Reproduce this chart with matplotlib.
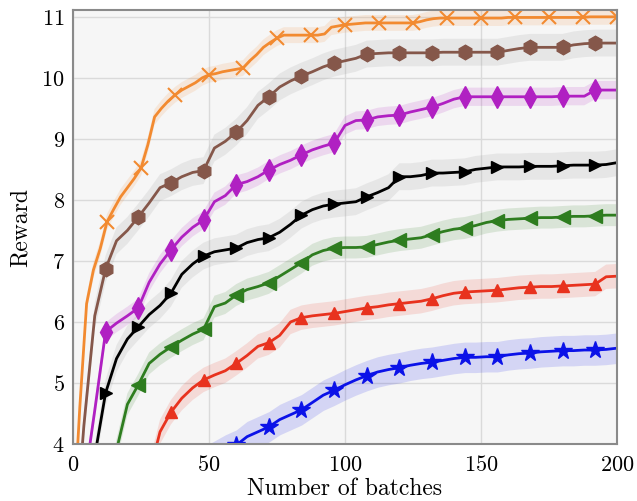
import matplotlib
matplotlib.use('Agg')
import matplotlib.pyplot as plt
import numpy as np

# batch grids
batches_fine = np.arange(0, 200.1, 2.5)
batches = np.arange(0, 200.1, 4)

reward_orange = [2.6, 4.6, 6.3, 6.85, 7.2, 7.64, 7.85, 8.05, 8.2, 8.35,
                 8.52, 8.9, 9.36, 9.5, 9.62, 9.72, 9.8, 9.86, 9.92, 10.0,
                 10.05, 10.07, 10.1, 10.12, 10.14, 10.16, 10.28, 10.38, 10.5, 10.58,
                 10.65, 10.7, 10.7, 10.7, 10.7, 10.7, 10.7, 10.72, 10.83, 10.85,
                 10.87, 10.88, 10.89, 10.9, 10.9, 10.9, 10.9, 10.9, 10.9, 10.9,
                 10.9, 10.92, 10.95, 10.97, 10.98, 10.98, 10.98, 10.98, 10.98, 10.98,
                 10.98, 10.98, 10.98, 10.98, 10.99, 10.99, 10.99, 10.99, 10.99, 10.99,
                 10.99, 10.99, 10.99, 10.99, 10.99, 10.99, 11.0, 11.0, 11.0, 11.0,
                 11.0]
reward_brown = [2.0, 4.3, 6.1, 6.87, 7.33, 7.5, 7.72, 7.95, 8.2, 8.28,
                8.38, 8.45, 8.48, 8.85, 8.96, 9.11, 9.3, 9.55, 9.69, 9.85,
                9.95, 10.03, 10.1, 10.18, 10.24, 10.28, 10.32, 10.39, 10.4, 10.41,
                10.41, 10.41, 10.41, 10.41, 10.42, 10.42, 10.42, 10.42, 10.42, 10.42,
                10.45, 10.48, 10.5, 10.5, 10.5, 10.5, 10.54, 10.56, 10.57, 10.57,
                10.57]
reward_purple = [1.5, 3.3, 4.55, 5.84, 5.98, 6.1, 6.23, 6.65, 6.95, 7.18,
                 7.39, 7.55, 7.67, 7.97, 8.07, 8.25, 8.3, 8.38, 8.49, 8.58,
                 8.65, 8.74, 8.82, 8.88, 8.93, 9.22, 9.3, 9.31, 9.36, 9.38,
                 9.39, 9.44, 9.48, 9.52, 9.58, 9.65, 9.69, 9.69, 9.69, 9.69,
                 9.69, 9.69, 9.69, 9.69, 9.69, 9.7, 9.7, 9.7, 9.8, 9.8,
                 9.8]
reward_black = [0.5, 2.0, 3.8, 4.84, 5.4, 5.72, 5.92, 6.12, 6.27, 6.47,
                6.78, 6.95, 7.08, 7.15, 7.18, 7.21, 7.3, 7.35, 7.38, 7.47,
                7.6, 7.75, 7.84, 7.9, 7.93, 7.95, 7.97, 8.05, 8.12, 8.2,
                8.38, 8.38, 8.4, 8.44, 8.44, 8.45, 8.46, 8.5, 8.52, 8.54,
                8.54, 8.54, 8.55, 8.55, 8.55, 8.56, 8.57, 8.57, 8.57, 8.58,
                8.61]
reward_green = [-1.0, 0.5, 1.8, 3.0, 3.9, 4.65, 4.97, 5.32, 5.47, 5.59,
                5.7, 5.8, 5.88, 6.25, 6.31, 6.44, 6.53, 6.58, 6.64, 6.75,
                6.86, 6.97, 7.1, 7.17, 7.21, 7.22, 7.22, 7.23, 7.27, 7.31,
                7.34, 7.36, 7.38, 7.43, 7.48, 7.52, 7.54, 7.58, 7.63, 7.66,
                7.68, 7.69, 7.7, 7.71, 7.71, 7.72, 7.73, 7.73, 7.74, 7.75,
                7.75]
reward_red = [-3.0, -1.5, -0.2, 0.8, 1.6, 2.3, 2.9, 3.5, 4.2, 4.52,
              4.75, 4.92, 5.05, 5.13, 5.2, 5.32, 5.45, 5.6, 5.66, 5.78,
              6.0, 6.07, 6.1, 6.12, 6.14, 6.17, 6.2, 6.23, 6.25, 6.28,
              6.3, 6.32, 6.34, 6.38, 6.43, 6.47, 6.49, 6.5, 6.51, 6.52,
              6.54, 6.56, 6.57, 6.58, 6.58, 6.59, 6.6, 6.61, 6.62, 6.74,
              6.75]
reward_blue = [1.0, 1.6, 2.0, 2.3, 2.55, 2.75, 2.95, 3.1, 3.25, 3.38,
               3.5, 3.6, 3.7, 3.8, 3.9, 3.98, 4.12, 4.2, 4.28, 4.4,
               4.48, 4.56, 4.68, 4.8, 4.88, 4.97, 5.05, 5.12, 5.18, 5.22,
               5.25, 5.29, 5.32, 5.34, 5.37, 5.4, 5.42, 5.42, 5.43, 5.43,
               5.46, 5.48, 5.49, 5.51, 5.52, 5.53, 5.53, 5.54, 5.54, 5.55,
               5.57]

spreads = {'orange': 0.13, 'brown': 0.22, 'purple': 0.15, 'black': 0.22,
           'green': 0.18, 'red': 0.2, 'blue': 0.25}

series = [
    (batches_fine, reward_orange, 'orange', '#f28a30', 'x', 10, (5, 5)),
    (batches, reward_brown, 'brown', '#85574a', 'h', 10.5, (3, 3)),
    (batches, reward_purple, 'purple', '#b020c2', 'd', 11, (3, 3)),
    (batches, reward_black, 'black', '#000000', '>', 9, (3, 3)),
    (batches, reward_green, 'green', '#2e7d1f', '<', 10, (3, 3)),
    (batches, reward_red, 'red', '#e8321e', '^', 8, (3, 3)),
    (batches, reward_blue, 'blue', '#0b12e8', '*', 13, (3, 3)),
]

plt.rcParams['font.family'] = ['cmr10', 'DejaVu Serif']
plt.rcParams['axes.formatter.use_mathtext'] = True
plt.rcParams['mathtext.fontset'] = 'cm'

fig = plt.figure(figsize=(6.37, 5.01), dpi=100)
ax = fig.add_axes([0.1146, 0.1138, 0.854, 0.866])
ax.set_facecolor('#f6f6f6')

for x, y, key, color, marker, ms, mevery in series:
    y = np.asarray(y)
    band_color = '#a0a0a0' if key in ('brown', 'black') else color
    ax.fill_between(x, y - spreads[key], y + spreads[key], color=band_color,
                    alpha=0.18 if key in ('brown', 'black') else 0.14,
                    linewidth=0)
    ax.plot(x, y, color=color, lw=2, marker=marker, ms=ms, markevery=mevery,
            mew=1.5 if marker == 'x' else 1)

ax.set_xlim(0, 200)
ax.set_ylim(4, 11.11)
ax.set_xticks([0, 50, 100, 150, 200])
ax.set_yticks([4, 5, 6, 7, 8, 9, 10, 11])
ax.grid(True, color='#dadada', lw=1)
ax.set_axisbelow(True)
ax.tick_params(length=0, labelsize=16)
ax.tick_params(axis='x', pad=8)
ax.tick_params(axis='y', pad=6)
for sp in ax.spines.values():
    sp.set_color('#8a8a8a')
    sp.set_linewidth(1.5)
ax.set_xlabel('Number of batches', fontsize=17, labelpad=2)
ax.set_ylabel('Reward', fontsize=17, labelpad=7)

fig.savefig('out.png', dpi=100)
